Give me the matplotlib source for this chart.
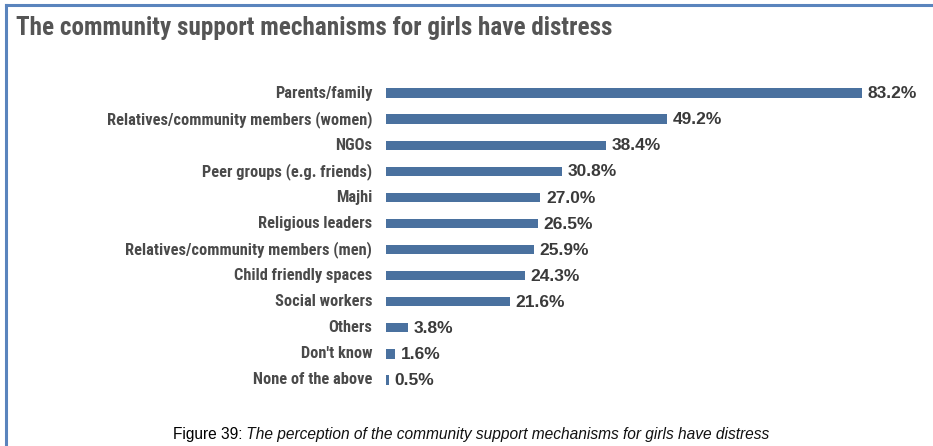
import matplotlib
matplotlib.use("Agg")
import matplotlib.pyplot as plt
from matplotlib.lines import Line2D

categories = [
    "Parents/family",
    "Relatives/community members (women)",
    "NGOs",
    "Peer groups (e.g. friends)",
    "Majhi",
    "Religious leaders",
    "Relatives/community members (men)",
    "Child friendly spaces",
    "Social workers",
    "Others",
    "Don't know",
    "None of the above",
]
values = [83.2, 49.2, 38.4, 30.8, 27.0, 26.5, 25.9, 24.3, 21.6, 3.8, 1.6, 0.5]
title = "The community support mechanisms for girls have distress"
caption_bold = "Figure 39:"
caption_italic = " The perception of the community support mechanisms for girls have distress"

narrow = ["Roboto Condensed", "DejaVu Sans"]
plain = ["Liberation Sans", "DejaVu Sans"]

W, H = 933, 446
fig = plt.figure(figsize=(W / 100, H / 100), dpi=100)

# frame lines (top and left)
fig.add_artist(Line2D([6 / W, 1], [1 - 5 / H, 1 - 5 / H], color="#5a84bd", lw=2.2))
fig.add_artist(Line2D([6 / W, 6 / W], [0, 1 - 5 / H], color="#5a84bd", lw=2.2))

fig.text(16 / W, 1 - 28 / H, title, fontsize=18.1, fontweight="bold",
         family=narrow, color="#555555", va="center", ha="left")

x0, x1 = 386, 862
ax = fig.add_axes([x0 / W, 1 - 393 / H, (x1 - x0) / W, 313 / H])
ypos = list(range(len(categories)))
ax.barh(ypos, values, height=0.36, color="#4a719f")
ax.set_xlim(0, values[0])
ax.set_ylim(len(categories) - 0.5, -0.5)
ax.axis("off")

for y, name, v in zip(ypos, categories, values):
    ax.annotate(name, xy=(0, y), xytext=(-10, 0), textcoords="offset points",
                ha="right", va="center", fontsize=11.8, fontweight="bold",
                family=narrow, color="#4a4a4a", annotation_clip=False)
    ax.annotate(f"{v:.1f}%", xy=(v, y), xytext=(4, -0.5), textcoords="offset points",
                ha="left", va="center", fontsize=12.5, fontweight="bold",
                family=plain, color="#3a3a3a", annotation_clip=False)

cap = fig.text(173 / W, 1 - 434 / H, caption_bold, fontsize=11.2, family=plain,
               color="#000000", va="center", ha="left")
fig.canvas.draw()
bb = cap.get_window_extent()
fig.text(bb.x1 / W, 1 - 434 / H, caption_italic, fontsize=11.2, family=plain,
         style="italic", color="#111111", va="center", ha="left")

fig.savefig("out.png", dpi=100)
